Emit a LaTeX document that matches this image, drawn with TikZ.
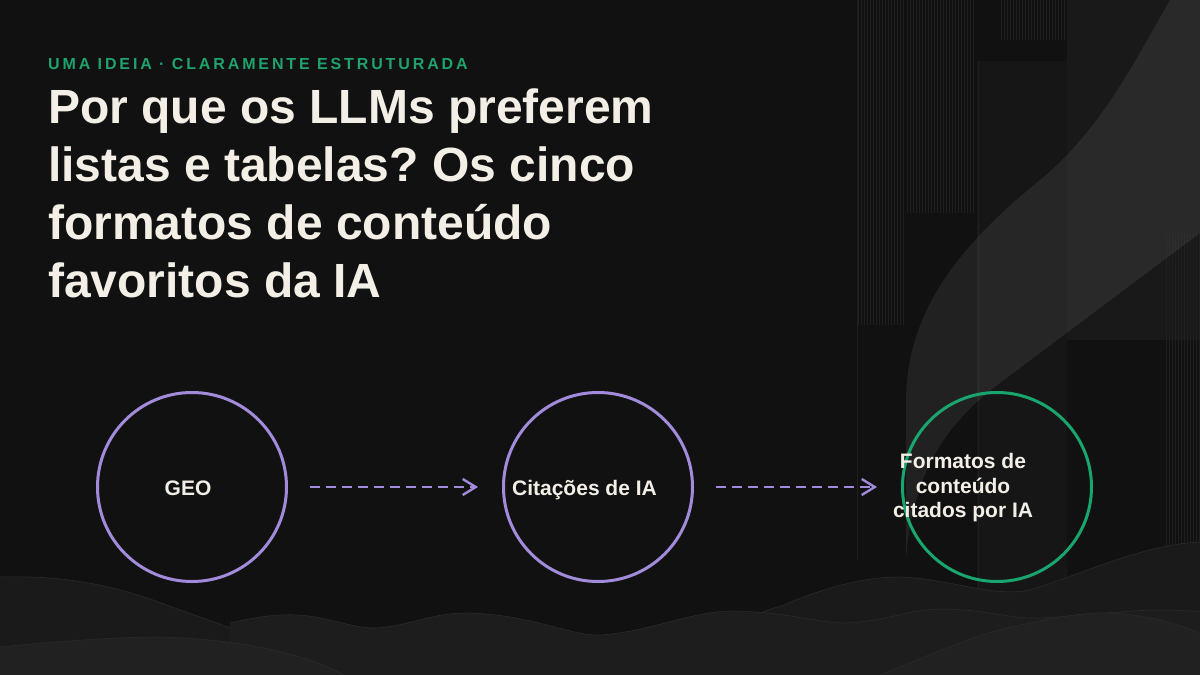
\documentclass[tikz,border=0pt]{standalone}
\usepackage{fontspec}
\setmainfont{Liberation Sans}
\newfontfamily\kickerfont[LetterSpace=18]{Liberation Sans}
\usetikzlibrary{arrows.meta}
\frenchspacing

\definecolor{bgdark}{HTML}{111111}
\definecolor{panelgray}{HTML}{191919}
\definecolor{panelmid}{HTML}{161616}
\definecolor{stripegray}{HTML}{1F1F1F}
\definecolor{hillback}{HTML}{1A1A1A}
\definecolor{hillmid}{HTML}{1D1D1D}
\definecolor{hillfront}{HTML}{212121}
\definecolor{hilledge}{HTML}{2A2A2A}
\definecolor{kickergreen}{HTML}{1FA36D}
\definecolor{titlecream}{HTML}{F3EFE7}
\definecolor{ringviolet}{HTML}{A18BDA}
\definecolor{ringgreen}{HTML}{19A56E}

\tikzset{
  stripe/.style={draw=stripegray,line width=0.7pt},
  hill/.style={draw=hilledge,line width=0.6pt},
  kicker/.style={text=kickergreen,font=\kickerfont\fontsize{16}{19}\selectfont\bfseries,inner sep=0pt},
  headline/.style={text=titlecream,font=\fontsize{48}{58}\selectfont\bfseries,align=left,inner sep=0pt},
  ring/.style={circle,draw=ringviolet,line width=3pt,minimum size=189pt,inner sep=0pt},
  ringlabel/.style={text=titlecream,font=\fontsize{21}{24.5}\selectfont\bfseries,align=center,inner sep=0pt},
  flow/.style={draw=ringviolet,line width=2.4pt,dash pattern=on 10pt off 6pt,
    -{Straight Barb[length=13pt,width=16pt,line width=2.4pt]}}
}

\begin{document}
\begin{tikzpicture}[x=1pt,y=-1pt]
  \useasboundingbox (0,0) rectangle (1200,675);
  \fill[bgdark] (0,0) rectangle (1200,675);

  % right side panels
  \fill[panelgray] (1067,0) rectangle (1200,340);
  \fill[panelmid] (977,61) rectangle (1067,675);
  \foreach \x in {858,861,...,904}
    \draw[stripe] (\x,0) -- (\x,325);
  \foreach \x in {907,910,...,975}
    \draw[stripe] (\x,0) -- (\x,213);
  \foreach \x in {1001,1004,...,1066}
    \draw[stripe] (\x,0) -- (\x,40);
  \foreach \x in {1166,1169,...,1199}
    \draw[stripe] (\x,233) -- (\x,675);
  \draw[stripe] (978,61) -- (978,675);
  \draw[stripe] (857,0) -- (857,560);

  % diagonal band
  \fill[white,fill opacity=0.07] (1170,0) .. controls (1130,70) and (1100,130) .. (1040,180)
    .. controls (960,245) and (907,310) .. (906,400) -- (906,560)
    .. controls (912,470) and (950,420) .. (1000,383) -- (1200,233) -- (1200,0) -- cycle;

  % hills
  \fill[hillback] (0,577) .. controls (40,576) and (90,578) .. (153,600)
    .. controls (220,625) and (300,650) .. (344,675) -- (0,675) -- cycle;
  \draw[hill] (0,577) .. controls (40,576) and (90,578) .. (153,600)
    .. controls (220,625) and (300,650) .. (344,675);
  \fill[hillback] (640,675) .. controls (700,640) and (750,615) .. (784,605)
    .. controls (830,585) and (870,577) .. (898,577)
    .. controls (950,578) and (990,598) .. (1030,590)
    .. controls (1080,575) and (1140,545) .. (1200,542) -- (1200,675) -- cycle;
  \draw[hill] (700,640) .. controls (740,620) and (760,612) .. (784,605)
    .. controls (830,585) and (870,577) .. (898,577)
    .. controls (950,578) and (990,598) .. (1030,590)
    .. controls (1080,575) and (1140,545) .. (1200,542);
  \fill[hillmid] (230,675) -- (230,623) .. controls (260,616) and (280,614) .. (298,615)
    .. controls (330,617) and (350,628) .. (375,628)
    .. controls (410,626) and (430,613) .. (467,613)
    .. controls (530,614) and (570,636) .. (600,635)
    .. controls (650,632) and (690,611) .. (734,611)
    .. controls (790,612) and (820,624) .. (849,623)
    .. controls (890,620) and (910,609) .. (944,609)
    .. controls (990,610) and (1010,619) .. (1040,618)
    .. controls (1100,615) and (1150,606) .. (1200,612) -- (1200,675) -- cycle;
  \draw[hill] (230,623) .. controls (260,616) and (280,614) .. (298,615)
    .. controls (330,617) and (350,628) .. (375,628)
    .. controls (410,626) and (430,613) .. (467,613)
    .. controls (530,614) and (570,636) .. (600,635)
    .. controls (650,632) and (690,611) .. (734,611)
    .. controls (790,612) and (820,624) .. (849,623)
    .. controls (890,620) and (910,609) .. (944,609)
    .. controls (990,610) and (1010,619) .. (1040,618)
    .. controls (1100,615) and (1150,606) .. (1200,612);
  \fill[hillfront] (0,647) .. controls (50,642) and (100,638) .. (150,637)
    .. controls (220,637) and (300,650) .. (344,675) -- (0,675) -- cycle;
  \draw[hill] (0,647) .. controls (50,642) and (100,638) .. (150,637)
    .. controls (220,637) and (300,650) .. (344,675);
  \fill[hillfront] (880,675) .. controls (930,655) and (980,632) .. (1021,625)
    .. controls (1060,616) and (1090,612) .. (1110,613)
    .. controls (1150,615) and (1180,625) .. (1200,633) -- (1200,675) -- cycle;
  \draw[hill] (880,675) .. controls (930,655) and (980,632) .. (1021,625)
    .. controls (1060,616) and (1090,612) .. (1110,613)
    .. controls (1150,615) and (1180,625) .. (1200,633);

  % heading
  \node[kicker,anchor=base west] (kicker) at (48,69.5) {UMA IDEIA · CLARAMENTE ESTRUTURADA};
  \node[headline,anchor=north west] (headline) at (48,89)
    {Por que os LLMs preferem\\listas e tabelas? Os cinco\\formatos de conteúdo\\favoritos da IA};

  % circles and flow
  \node[ring] (geo) at (192,487) {};
  \node[ring] (cite) at (598,487) {};
  \node[ring,draw=ringgreen] (formats) at (997,487) {};
  \draw[flow,shorten <=22pt,shorten >=24pt] (geo) -- (cite);
  \draw[flow,shorten <=22pt,shorten >=24pt] (cite) -- (formats);

  \node[ringlabel,anchor=base] (geolabel) at (188,495) {GEO};
  \node[ringlabel,anchor=base] (citelabel) at (584.5,495) {Citações de IA};
  \node[ringlabel] (formatslabel) at (963,488) {Formatos de\\conteúdo\\citados por IA};
\end{tikzpicture}
\end{document}
